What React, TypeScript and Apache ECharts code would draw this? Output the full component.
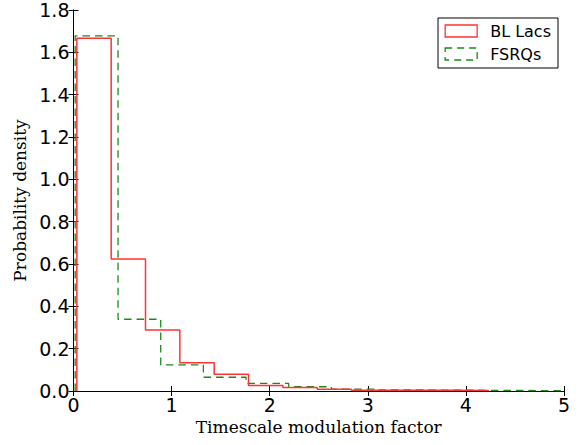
import React, { useEffect, useRef } from "react";
import * as echarts from "echarts";

const blLacsEdges = [0.034, 0.384, 0.734, 1.084, 1.434, 1.784, 2.134, 2.484, 2.834, 3.184, 3.534, 3.884, 4.234];
const blLacsValues = [1.667, 0.624, 0.288, 0.134, 0.079, 0.026, 0.016, 0.008, 0.004, 0.004, 0.003, 0.002];
const fsrqEdges = [0.017, 0.454, 0.889, 1.324, 1.759, 2.194, 2.629, 3.064, 3.499, 3.934, 4.369, 4.804, 5.239];
const fsrqValues = [1.678, 0.339, 0.123, 0.065, 0.036, 0.02, 0.009, 0.005, 0.004, 0.003, 0.002, 0.002];
const seriesNames = ["BL Lacs", "FSRQs"];
const xTicks = [0, 1, 2, 3, 4, 5];
const yTicks = [0, 0.2, 0.4, 0.6, 0.8, 1.0, 1.2, 1.4, 1.6, 1.8];

function stepPoints(edges: number[], values: number[]): number[][] {
  const pts: number[][] = [[edges[0], 0]];
  values.forEach((v, i) => {
    pts.push([edges[i], v]);
    pts.push([edges[i + 1], v]);
  });
  pts.push([edges[edges.length - 1], 0]);
  return pts;
}

export default function App() {
  const ref = useRef<HTMLDivElement>(null);
  useEffect(() => {
    if (!ref.current) return;
    const chart = echarts.init(ref.current, null, { renderer: "svg" });
    const tickFont = { fontFamily: "DejaVu Sans", fontSize: 19, color: "#000" };
    const xMin = xTicks[0];
    const xMax = xTicks[xTicks.length - 1];
    const yMin = yTicks[0];
    const yMax = yTicks[yTicks.length - 1];
    const axisLine = { show: true, lineStyle: { color: "#000", width: 1 } };
    const axisTick = { show: true, inside: true, length: 5, lineStyle: { color: "#000", width: 1 } };
    const dash = [7.5, 5];
    chart.setOption({
      animation: false,
      backgroundColor: "#fff",
      grid: { left: 73.5, right: 15, top: 10, bottom: 54, containLabel: false, outerBoundsMode: "none" },
      legend: {
        right: 21,
        top: 18,
        orient: "vertical",
        align: "left",
        itemWidth: 32,
        itemHeight: 12,
        itemGap: 7,
        padding: [5, 7, 6, 6.5],
        borderColor: "#000",
        borderWidth: 1,
        borderRadius: 0,
        textStyle: {
          fontFamily: "DejaVu Sans",
          fontSize: 16,
          lineHeight: 16,
          color: "#000",
          padding: [0, 0, 0, 8],
        },
        data: [
          {
            name: seriesNames[0],
            icon: "rect",
            itemStyle: { color: "transparent", borderColor: "#ff3333", borderWidth: 1.3 },
          },
          {
            name: seriesNames[1],
            icon: "rect",
            itemStyle: { color: "transparent", borderColor: "#1a8a1a", borderWidth: 1.3, borderType: [7, 5] },
          },
        ],
      },
      xAxis: [
        {
          type: "value",
          min: xMin,
          max: xMax,
          interval: 1,
          axisLine,
          axisTick,
          splitLine: { show: false },
          axisLabel: { ...tickFont, margin: 4 },
          name: "Timescale modulation factor",
          nameLocation: "middle",
          nameGap: 22,
          nameTextStyle: { fontFamily: "DejaVu Serif", fontSize: 17, color: "#000" },
        },
        {
          type: "value",
          position: "top",
          min: xMin,
          max: xMax,
          interval: 1,
          axisLine,
          axisTick,
          splitLine: { show: false },
          axisLabel: { show: false },
        },
      ],
      yAxis: [
        {
          type: "value",
          min: yMin,
          max: yMax,
          interval: 0.2,
          axisLine,
          axisTick,
          splitLine: { show: false },
          axisLabel: { ...tickFont, margin: 4, formatter: (v: number) => v.toFixed(1) },
          name: "Probability density",
          nameLocation: "middle",
          nameGap: 44,
          nameTextStyle: { fontFamily: "DejaVu Serif", fontSize: 17, color: "#000" },
        },
        {
          type: "value",
          position: "right",
          min: yMin,
          max: yMax,
          interval: 0.2,
          axisLine,
          axisTick,
          splitLine: { show: false },
          axisLabel: { show: false },
        },
      ],
      series: [
        {
          name: seriesNames[1],
          type: "line",
          data: stepPoints(fsrqEdges, fsrqValues),
          showSymbol: false,
          symbol: "none",
          clip: true,
          lineStyle: { color: "#1a8a1a", width: 1.3, type: dash },
          itemStyle: { color: "#1a8a1a" },
        },
        {
          name: seriesNames[0],
          type: "line",
          data: stepPoints(blLacsEdges, blLacsValues),
          showSymbol: false,
          symbol: "none",
          clip: true,
          lineStyle: { color: "#ff3333", width: 1.5 },
          itemStyle: { color: "#ff3333" },
        },
      ],
    });
    return () => chart.dispose();
  }, []);
  return (
    <div
      ref={ref}
      style={{ position: "absolute", left: 0, top: 0, width: 579, height: 445 }}
    />
  );
}
